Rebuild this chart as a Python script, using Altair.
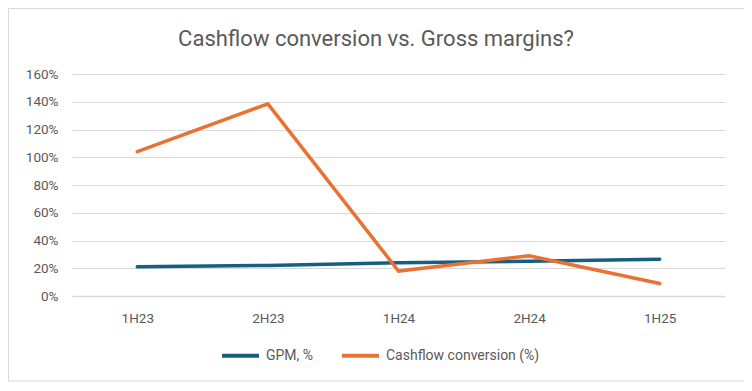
import altair as alt
import pandas as pd

periods = ["1H23", "2H23", "1H24", "2H24", "1H25"]
gpm = [0.21, 0.22, 0.24, 0.25, 0.265]
cashflow = [1.04, 1.385, 0.18, 0.29, 0.09]
series_names = ["GPM, %", "Cashflow conversion (%)"]
series_colors = ["#156082", "#E97132"]
y_ticks = [0, 0.2, 0.4, 0.6, 0.8, 1.0, 1.2, 1.4, 1.6]
title_text = "Cashflow conversion vs. Gross margins?"

rows = []
for p, v in zip(periods, gpm):
    rows.append({"period": p, "series": series_names[0], "value": v})
for p, v in zip(periods, cashflow):
    rows.append({"period": p, "series": series_names[1], "value": v})
df = pd.DataFrame(rows)

FONT = "Roboto"
GREY = "#595959"

lines = alt.Chart(df).mark_line(strokeWidth=3.5, strokeCap="round", strokeJoin="miter").encode(
    x=alt.X("period:N", sort=periods, title=None,
            scale=alt.Scale(paddingInner=0, paddingOuter=0.5),
            axis=alt.Axis(labelAngle=0, labelFont=FONT, labelFontSize=13.5, labelColor=GREY,
                          domain=True, domainColor="#D9D9D9", domainWidth=1.5, ticks=False,
                          labelPadding=15, grid=False)),
    y=alt.Y("value:Q", title=None,
            scale=alt.Scale(domain=[0, 1.6], nice=False),
            axis=alt.Axis(values=y_ticks, format=".0%", labelFont=FONT, labelFontSize=13.5,
                          labelColor=GREY, domain=False, ticks=False, labelPadding=14,
                          grid=True, gridColor="#D9D9D9", gridWidth=1)),
    color=alt.Color("series:N", sort=series_names,
                    scale=alt.Scale(domain=series_names, range=series_colors),
                    legend=alt.Legend(title=None, orient="none", legendX=148, legendY=261,
                                      direction="horizontal", symbolType="stroke",
                                      symbolSize=1369, symbolStrokeWidth=4,
                                      labelFont=FONT, labelFontSize=14, labelColor=GREY,
                                      labelOffset=5, columnPadding=20, padding=0)),
    order=alt.Order("period_idx:Q"),
).transform_calculate(
    period_idx="indexof(['1H23','2H23','1H24','2H24','1H25'], datum.period)"
)

border = alt.Chart(pd.DataFrame({"a": [0]})).mark_rect(
    fill=None, stroke="#D9D9D9", strokeWidth=1
).encode(
    x=alt.value(-63.5), x2=alt.value(674), y=alt.value(-65.5), y2=alt.value(307)
)

title = alt.Chart(pd.DataFrame({"t": [title_text]})).mark_text(
    font=FONT, fontSize=22, color=GREY, align="center", baseline="middle"
).encode(
    text="t:N", x=alt.value(304), y=alt.value(-35)
)

chart = alt.layer(border, title, lines).properties(
    width=653, height=222,
    autosize=alt.AutoSizeParams(type="none"),
    padding={"left": 64, "top": 66, "right": 19, "bottom": 86},
).configure_view(stroke=None)

chart.save("out.html", embed_options={"renderer": "svg", "actions": False})
